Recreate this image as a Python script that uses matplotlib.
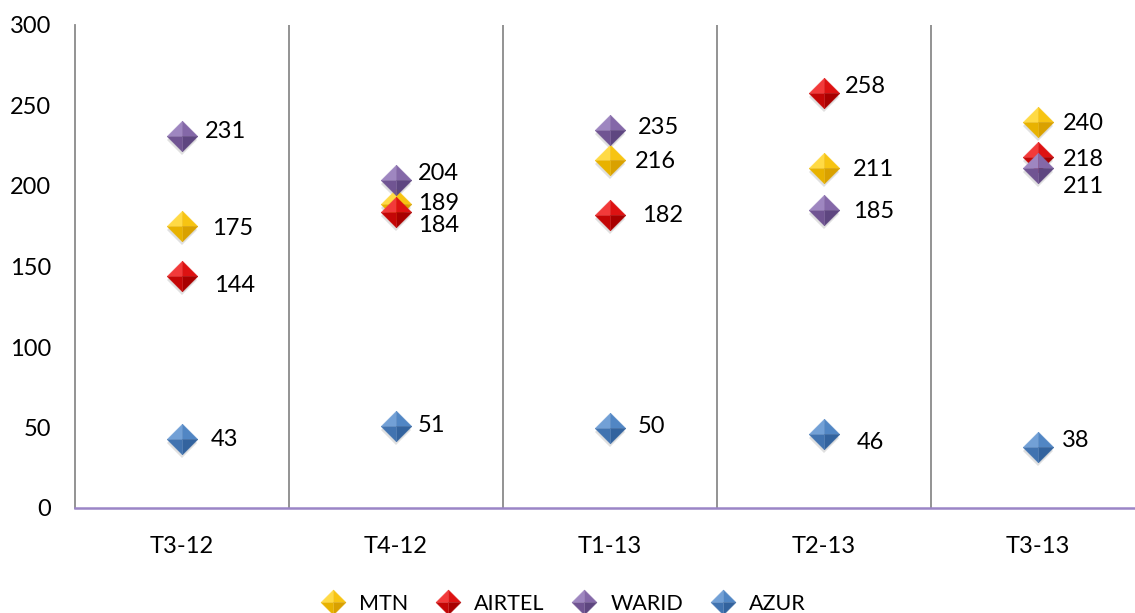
import matplotlib
matplotlib.use("Agg")
import matplotlib.pyplot as plt
from matplotlib.legend_handler import HandlerTuple
from matplotlib.lines import Line2D
from matplotlib.transforms import ScaledTranslation

plt.rcParams['font.family'] = ['Lato', 'DejaVu Sans']

# data
quarters = ["T3-12", "T4-12", "T1-13", "T2-13", "T3-13"]
mtn = [175, 189, 216, 211, 240]
airtel = [144, 184, 182, 258, 218]
warid = [231, 204, 235, 185, 211]
azur = [43, 51, 50, 46, 38]

series = ["MTN", "AIRTEL", "WARID", "AZUR"]
values = [mtn, airtel, warid, azur]

# facet shades (top-left, top-right, bottom-right, bottom-left)
shades = {
    "MTN": ["#FFDA45", "#F7C412", "#D9A100", "#E8B200"],
    "AIRTEL": ["#F23A3A", "#DD1212", "#A80000", "#C40606"],
    "WARID": ["#9E86C0", "#8468A8", "#5E4680", "#705492"],
    "AZUR": ["#72A0D6", "#5186C4", "#33639E", "#4173B0"],
}

# label offsets in pixels (dx right, dy down) per series/quarter
label_off = {
    "MTN": [(30, 2), (22, 0), (25, 1), (29, 1), (25, 2)],
    "AIRTEL": [(32, 9), (22, 14), (32, 1), (21, -6), (25, 2)],
    "WARID": [(23, -5), (22, -6), (28, -2), (29, 1), (25, 18)],
    "AZUR": [(29, 1), (22, 0), (28, -1), (33, 9), (24, -6)],
}

facets = [
    [(0, 0), (-1, 0), (0, 1)],
    [(0, 0), (0, 1), (1, 0)],
    [(0, 0), (1, 0), (0, -1)],
    [(0, 0), (0, -1), (-1, 0)],
]

W, H = 1135, 613
fig = plt.figure(figsize=(W / 100, H / 100), dpi=100)
ax = fig.add_axes([75 / W, 1 - 508 / H, 1070 / W, 483 / H])

x = list(range(len(quarters)))
ms = 22
fs = 17

for name, vals in zip(series, values):
    # soft shadow
    ax.plot(x, vals, ls="none", marker="D", ms=ms / 1.414, color="#000000",
            alpha=0.12, mew=0,
            transform=ax.transData + ScaledTranslation(0, -3 / 72, fig.dpi_scale_trans),
            zorder=3)
    for f, c in zip(facets, shades[name]):
        ax.plot(x, vals, ls="none", marker=f, ms=ms, color=c, mec=c, mew=0.4, zorder=4)
    for xi, v, (dx, dy) in zip(x, vals, label_off[name]):
        ax.annotate(str(v), (xi, v), xytext=(dx * 0.72, -dy * 0.72),
                    textcoords="offset points", ha="left", va="center",
                    fontsize=fs, color="black", zorder=5)

for b in [0.5, 1.5, 2.5, 3.5]:
    ax.axvline(b, color="#8a8a8a", lw=1.3, zorder=1)

ax.set_xlim(-0.5, 4.5)
ax.set_ylim(0, 300)
ax.set_yticks(range(0, 301, 50))
ax.set_xticks(x)
ax.set_xticklabels(quarters)
ax.tick_params(axis="both", length=0, labelsize=fs)
ax.tick_params(axis="y", pad=17)
ax.tick_params(axis="x", pad=20)
for s in ["top", "right"]:
    ax.spines[s].set_visible(False)
ax.spines["left"].set_color("#8a8a8a")
ax.spines["left"].set_linewidth(1.3)
ax.spines["bottom"].set_color("#9B85C6")
ax.spines["bottom"].set_linewidth(1.8)

handles = []
for name in series:
    handles.append(tuple(Line2D([], [], ls="none", marker=f, ms=18, color=c, mec=c, mew=0.3)
                         for f, c in zip(facets, shades[name])))
fig.legend(handles, series, loc="center", bbox_to_anchor=(564 / W, 1 - 604 / H),
           ncol=4, frameon=False, fontsize=15.5, handlelength=1.0,
           columnspacing=1.35, handletextpad=0.7,
           handler_map={tuple: HandlerTuple(ndivide=1)})

fig.savefig("out.png", dpi=100)
